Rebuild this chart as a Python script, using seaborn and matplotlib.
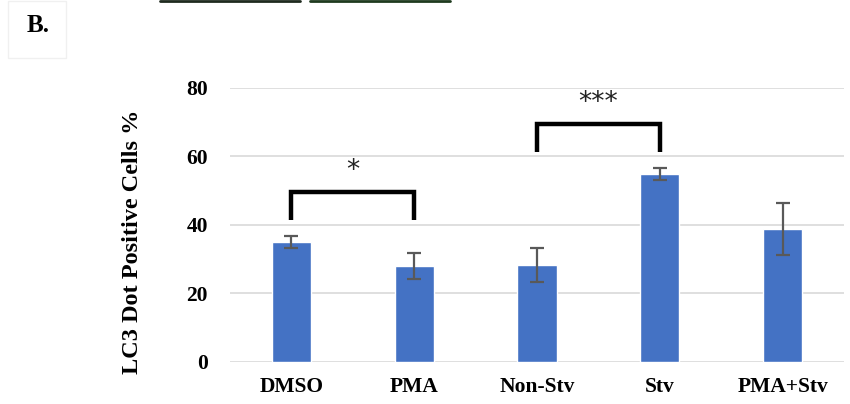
import matplotlib
matplotlib.use("Agg")
import matplotlib.pyplot as plt
import seaborn as sns
import pandas as pd

# Treatment groups and LC3 dot-positive cell percentages (mean ± error)
groups = ["DMSO", "PMA", "Non-Stv", "Stv", "PMA+Stv"]
means = [34.9, 27.9, 28.3, 54.8, 38.7]
errors = [1.7, 3.9, 5.0, 1.8, 7.7]

# Significance comparisons: (first group, second group, label)
comparisons = [("DMSO", "PMA", "*"), ("Non-Stv", "Stv", "***")]

y_ticks = [0, 20, 40, 60, 80]

df = pd.DataFrame({"group": groups, "value": means, "err": errors})

sns.set_theme(style="white")
plt.rcParams["font.family"] = ["Liberation Serif", "DejaVu Serif"]
plt.rcParams["text.color"] = "black"
plt.rcParams["xtick.color"] = "black"
plt.rcParams["ytick.color"] = "black"

fig = plt.figure(figsize=(8.5, 4.04), dpi=100)
ax = fig.add_axes([230 / 850, 42.3 / 404, 614 / 850, 274.2 / 404])

bar_color = "#4472C4"
sns.barplot(data=df, x="group", y="value", color=bar_color, width=0.32,
            errorbar=None, saturation=1, ax=ax, zorder=3)

xpos = range(len(groups))
ax.errorbar(list(xpos), df["value"], yerr=df["err"], fmt="none",
            ecolor="#595959", elinewidth=1.6, capsize=5, capthick=1.6, zorder=4)

ax.set_ylim(0, 80)
ax.set_xlim(-0.5, len(groups) - 0.5)
ax.set_yticks(y_ticks)
ax.yaxis.grid(True, color="#d9d9d9", linewidth=1.2, zorder=0)
ax.xaxis.grid(False)
for side in ["top", "right", "left", "bottom"]:
    ax.spines[side].set_visible(False)
ax.tick_params(axis="both", length=0)
ax.tick_params(axis="y", pad=16)
ax.tick_params(axis="x", pad=11)
for lbl in ax.get_yticklabels() + ax.get_xticklabels():
    lbl.set_fontweight("bold")
    lbl.set_fontsize(15.5)
ax.set_xlabel("")
ax.set_ylabel("")
ax.text(-0.1596, 0.4366, "LC3 Dot Positive Cells %", transform=ax.transAxes,
        rotation=90, ha="center", va="center", fontsize=17.5,
        fontweight="bold")

# Significance brackets
idx = {g: i for i, g in enumerate(groups)}
for a, b, label in comparisons:
    i, j = idx[a], idx[b]
    top = max(means[i] + errors[i], means[j] + errors[j])
    base = top + 4.6
    height = base + 8.2
    ax.plot([i, i, j, j], [base, height, height, base], color="black",
            linewidth=3.2, solid_joinstyle="miter", solid_capstyle="butt",
            zorder=5, clip_on=False)
    ax.text((i + j) / 2, height + 2.3, label, ha="center", va="bottom",
            fontsize=19, family="DejaVu Sans", color="#222222")

# Panel letter with its faint frame
fig.patches.append(plt.Rectangle((8 / 850, 1 - 58 / 404), 58 / 850, 57 / 404,
                                 transform=fig.transFigure, fill=False,
                                 edgecolor="#f0f0f0", linewidth=1))
fig.text(27 / 850, 1 - 26 / 404, "B.", fontsize=18, fontweight="bold",
         va="center", ha="left")

# Edges of the panels above
fig.add_artist(plt.Line2D([160 / 850, 300 / 850], [1 - 1 / 404, 1 - 1 / 404],
                          transform=fig.transFigure, color="#1e2a1e", linewidth=2))
fig.add_artist(plt.Line2D([310 / 850, 450 / 850], [1 - 1 / 404, 1 - 1 / 404],
                          transform=fig.transFigure, color="#1e3a1e", linewidth=2))

fig.savefig("out.png", dpi=100)
